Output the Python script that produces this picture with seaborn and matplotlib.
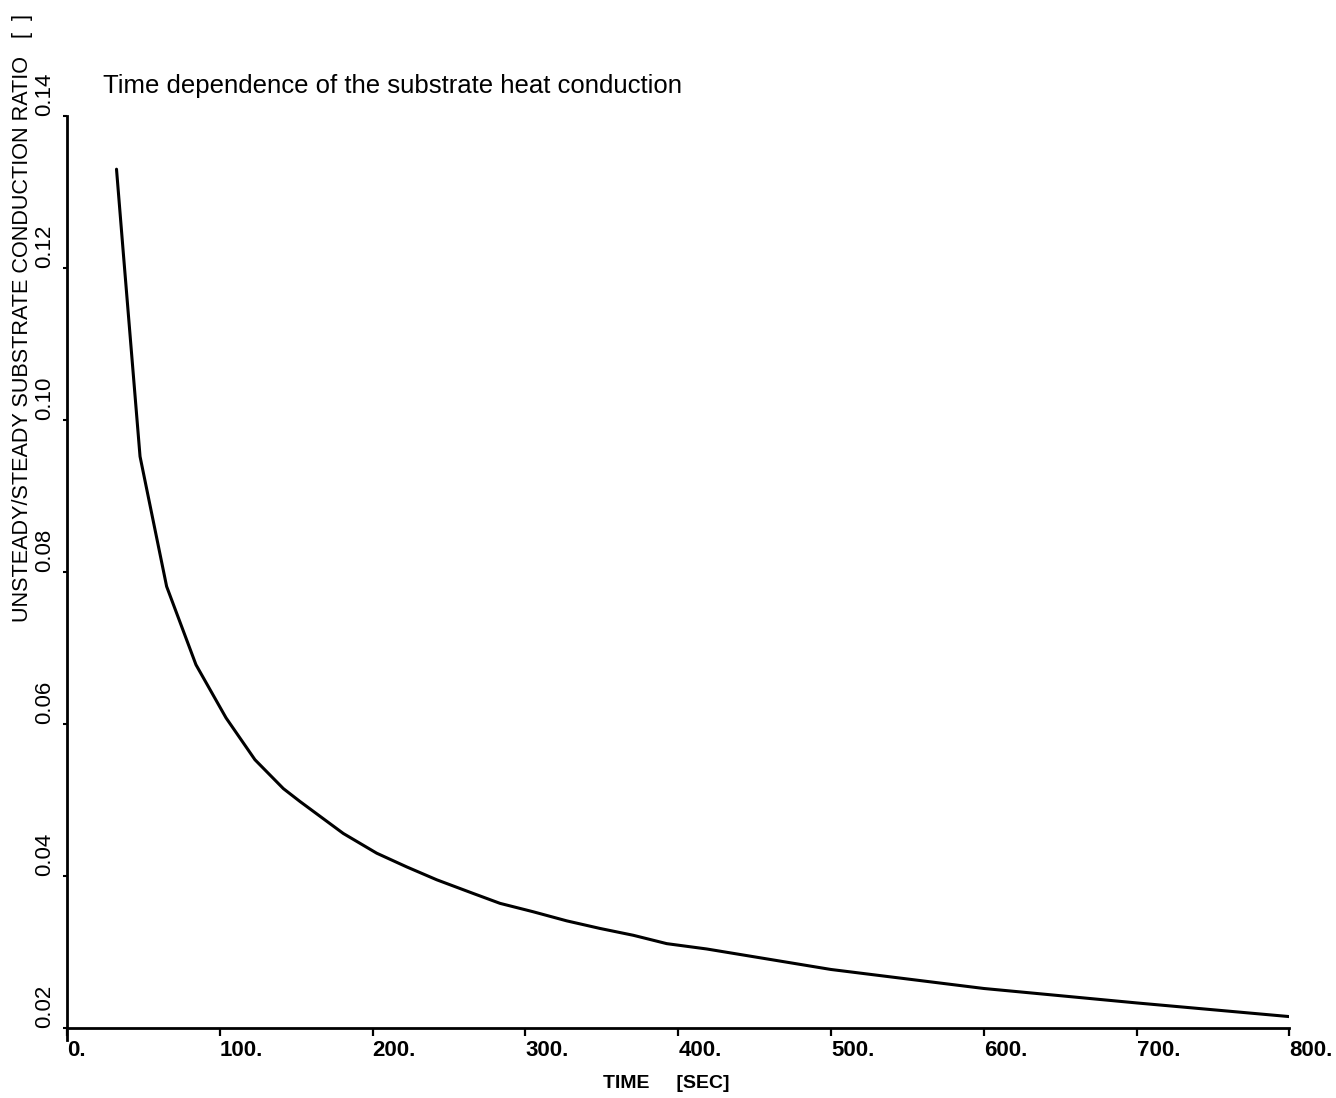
import matplotlib
matplotlib.use("Agg")
import matplotlib.pyplot as plt
import seaborn as sns
import pandas as pd

# ---- data ----
time_s = [32.4, 36.8, 47.8, 65.2, 84.4, 104.1, 123.0, 141.6, 152.5, 180.8,
          202.7, 222.3, 242.0, 265.9, 283.4, 305.0, 327.0, 348.8, 370.6,
          392.5, 418.6, 500.0, 600.0, 700.0, 800.0]
ratio = [0.1330, 0.1221, 0.0952, 0.0781, 0.0678, 0.0608, 0.0553, 0.0515,
         0.0498, 0.0456, 0.0430, 0.0412, 0.0395, 0.0377, 0.0364, 0.0353,
         0.0341, 0.0331, 0.0322, 0.0311, 0.0304, 0.0277, 0.0252, 0.0233,
         0.0215]
x_ticks = [0, 100, 200, 300, 400, 500, 600, 700, 800]
x_tick_labels = ["0.", "100.", "200.", "300.", "400.", "500.", "600.", "700.", "800."]
y_ticks = [0.02, 0.04, 0.06, 0.08, 0.10, 0.12, 0.14]
y_tick_labels = ["0.02", "0.04", "0.06", "0.08", "0.10", "0.12", "0.14"]
title = "Time dependence of the substrate heat conduction"
x_label = "TIME     [SEC]"
y_label = "UNSTEADY/STEADY SUBSTRATE CONDUCTION RATIO   [  ]"

df = pd.DataFrame({"time": time_s, "ratio": ratio})

sns.set_style("ticks")
plt.rcParams["font.family"] = ["Liberation Sans", "DejaVu Sans"]
for key in ("text.color", "axes.labelcolor", "xtick.color", "ytick.color",
            "axes.edgecolor"):
    plt.rcParams[key] = "black"

W, H = 1336, 1098
fig = plt.figure(figsize=(W / 100, H / 100), dpi=100)
left, right, bottom, top = 67, 1289.4, 1040, 116
ax = fig.add_axes([left / W, (H - bottom) / H, (right - left) / W, (bottom - top) / H])

sns.lineplot(data=df, x="time", y="ratio", ax=ax, color="black", linewidth=2.2)

ax.set_xlim(0, 800)
ax.set_ylim(0.02 - 12 / 7600, 0.14)
ax.spines["bottom"].set_position(("data", 0.02))
for s in ("top", "right"):
    ax.spines[s].set_visible(False)
for s in ("left", "bottom"):
    ax.spines[s].set_linewidth(2.0)
    ax.spines[s].set_color("black")

ax.set_xticks(x_ticks)
ax.set_xticklabels(x_tick_labels, fontsize=16, fontweight="bold")
ax.set_yticks(y_ticks)
ax.set_yticklabels(y_tick_labels, fontsize=16, rotation=90, va="bottom")
ax.tick_params(axis="x", direction="out", length=6, width=1.6, pad=3, colors="black")
ax.tick_params(axis="y", direction="out", length=3, width=1.5, pad=5.5, colors="black")
for lab in ax.get_xticklabels():
    lab.set_horizontalalignment("left")

ax.set_xlabel("")
ax.set_ylabel("")

fig.text(103 / W, (H - 93) / H, title, fontsize=18.5, ha="left", va="baseline")
fig.text(666 / W, (H - 1083) / H, x_label, fontsize=14, fontweight="bold",
         ha="center", va="center")
fig.text(23 / W, (H - 622) / H, y_label, fontsize=15.6, rotation=90,
         ha="center", va="bottom")

fig.savefig("out.png", dpi=100, facecolor="white")
